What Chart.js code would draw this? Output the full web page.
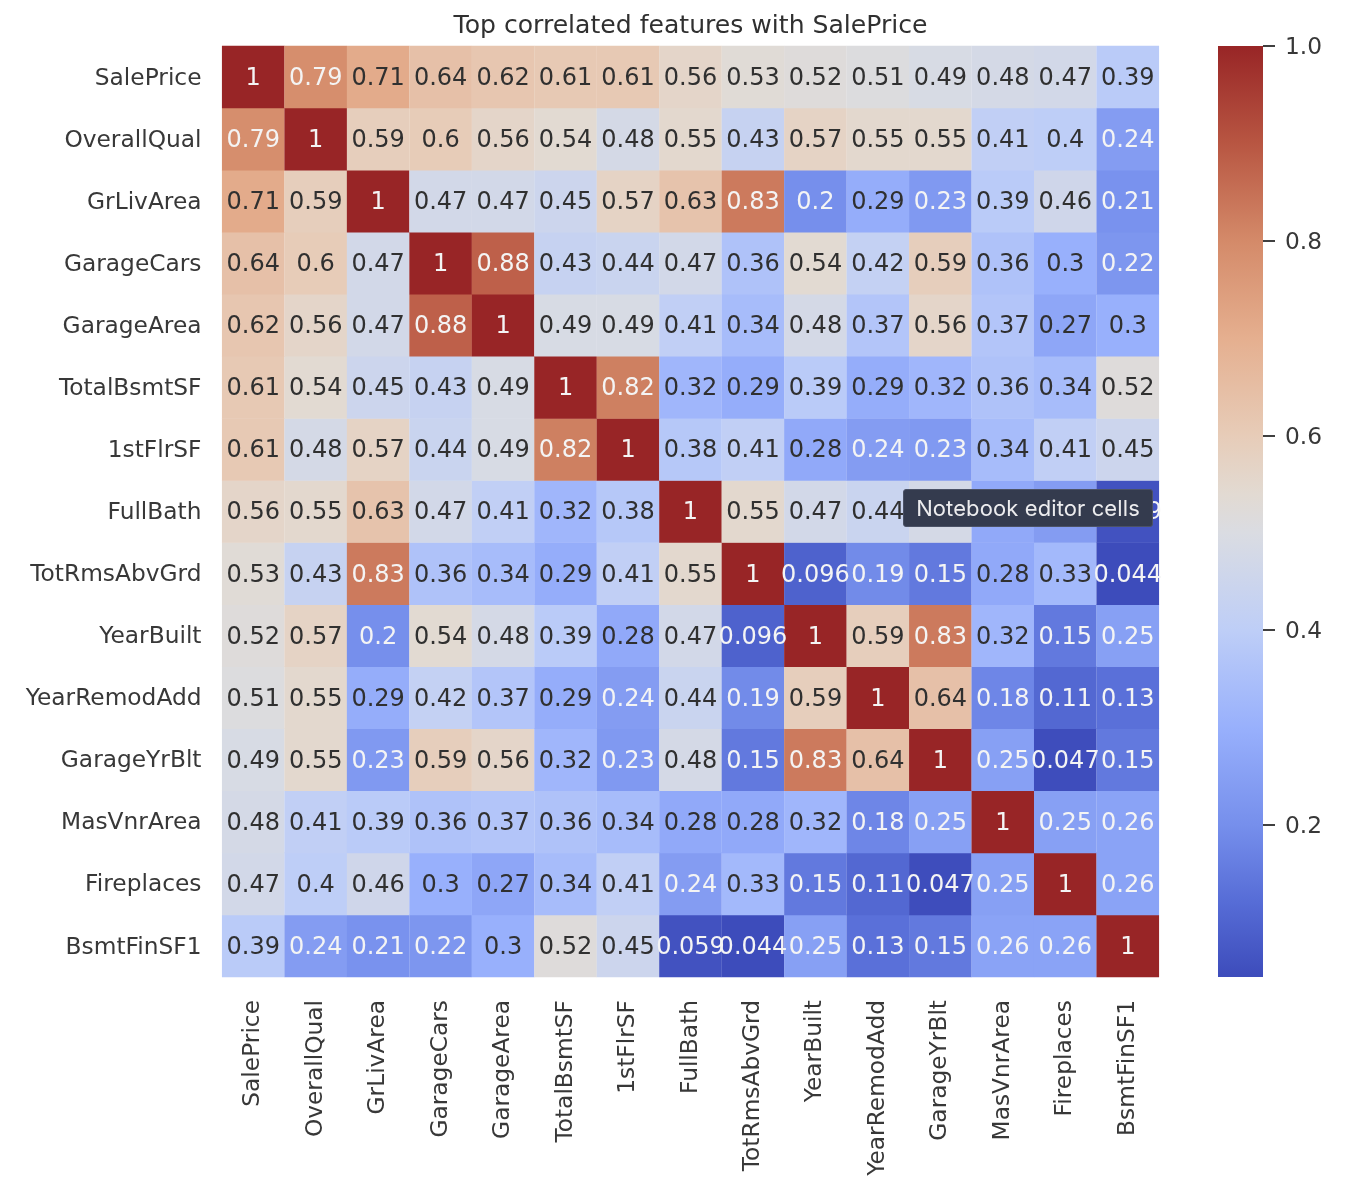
<!DOCTYPE html>
<html>
<head>
<meta charset="utf-8">
<script src="https://cdn.jsdelivr.net/npm/chart.js@4"></script>
<style>
html,body{margin:0;padding:0;background:#fff;width:1346px;height:1202px;overflow:hidden;position:relative}
canvas{position:absolute;top:0;display:block;filter:blur(0.45px)}
#main{left:0}
#bar{left:1218px}
#tip{position:absolute;left:903px;top:489px;width:248px;height:36px;line-height:36px;text-align:center;background:#343b4e;border:1px solid #4b5266;border-radius:3px;color:#ececee;font:400 22px/36px Inter,sans-serif;letter-spacing:0.1px;filter:blur(0.3px)}
</style>
</head>
<body>
<canvas id="main" width="1346" height="1202"></canvas>
<canvas id="bar" width="128" height="1202"></canvas>
<div id="tip">Notebook editor cells</div>
<script>
const features = ["SalePrice","OverallQual","GrLivArea","GarageCars","GarageArea","TotalBsmtSF","1stFlrSF","FullBath","TotRmsAbvGrd","YearBuilt","YearRemodAdd","GarageYrBlt","MasVnrArea","Fireplaces","BsmtFinSF1"];
const rowSalePrice    = [1,0.79,0.71,0.64,0.62,0.61,0.61,0.56,0.53,0.52,0.51,0.49,0.48,0.47,0.39];
const rowOverallQual  = [0.79,1,0.59,0.6,0.56,0.54,0.48,0.55,0.43,0.57,0.55,0.55,0.41,0.4,0.24];
const rowGrLivArea    = [0.71,0.59,1,0.47,0.47,0.45,0.57,0.63,0.83,0.2,0.29,0.23,0.39,0.46,0.21];
const rowGarageCars   = [0.64,0.6,0.47,1,0.88,0.43,0.44,0.47,0.36,0.54,0.42,0.59,0.36,0.3,0.22];
const rowGarageArea   = [0.62,0.56,0.47,0.88,1,0.49,0.49,0.41,0.34,0.48,0.37,0.56,0.37,0.27,0.3];
const rowTotalBsmtSF  = [0.61,0.54,0.45,0.43,0.49,1,0.82,0.32,0.29,0.39,0.29,0.32,0.36,0.34,0.52];
const row1stFlrSF     = [0.61,0.48,0.57,0.44,0.49,0.82,1,0.38,0.41,0.28,0.24,0.23,0.34,0.41,0.45];
const rowFullBath     = [0.56,0.55,0.63,0.47,0.41,0.32,0.38,1,0.55,0.47,0.44,0.48,0.28,0.24,0.059];
const rowTotRmsAbvGrd = [0.53,0.43,0.83,0.36,0.34,0.29,0.41,0.55,1,0.096,0.19,0.15,0.28,0.33,0.044];
const rowYearBuilt    = [0.52,0.57,0.2,0.54,0.48,0.39,0.28,0.47,0.096,1,0.59,0.83,0.32,0.15,0.25];
const rowYearRemodAdd = [0.51,0.55,0.29,0.42,0.37,0.29,0.24,0.44,0.19,0.59,1,0.64,0.18,0.11,0.13];
const rowGarageYrBlt  = [0.49,0.55,0.23,0.59,0.56,0.32,0.23,0.48,0.15,0.83,0.64,1,0.25,0.047,0.15];
const rowMasVnrArea   = [0.48,0.41,0.39,0.36,0.37,0.36,0.34,0.28,0.28,0.32,0.18,0.25,1,0.25,0.26];
const rowFireplaces   = [0.47,0.4,0.46,0.3,0.27,0.34,0.41,0.24,0.33,0.15,0.11,0.047,0.25,1,0.26];
const rowBsmtFinSF1   = [0.39,0.24,0.21,0.22,0.3,0.52,0.45,0.059,0.044,0.25,0.13,0.15,0.26,0.26,1];
const colorbarTicks = [0.2,0.4,0.6,0.8,1.0];
const vMin = 0.044, vMax = 1;
const titleText = "Top correlated features with SalePrice";

const matrix = [rowSalePrice,rowOverallQual,rowGrLivArea,rowGarageCars,rowGarageArea,rowTotalBsmtSF,row1stFlrSF,rowFullBath,rowTotRmsAbvGrd,rowYearBuilt,rowYearRemodAdd,rowGarageYrBlt,rowMasVnrArea,rowFireplaces,rowBsmtFinSF1];

// colour ramp as seen in the picture: [value, r, g, b]
const ramp = [[0.044,61,76,187],[0.12,86,108,214],[0.2,118,143,236],[0.3,152,176,252],[0.4,190,206,247],[0.5,218,220,226],[0.54,226,218,210],[0.6,231,204,184],[0.7,229,175,143],[0.8,212,138,105],[0.9,184,86,66],[1,152,37,38]];
function colorFor(v){
  for(let i=1;i<ramp.length;i++){
    if(v<=ramp[i][0]){
      const a=ramp[i-1],b=ramp[i],t=(v-a[0])/(b[0]-a[0]);
      return `rgb(${Math.round(a[1]+t*(b[1]-a[1]))},${Math.round(a[2]+t*(b[2]-a[2]))},${Math.round(a[3]+t*(b[3]-a[3]))})`;
    }
  }
  return `rgb(${ramp[ramp.length-1].slice(1).join(',')})`;
}
const textColor = v => (v<0.265||v>0.75) ? '#f4f4f4' : '#303030';
const FONT = '"DejaVu Sans"';

const cellLabels = {
  id:'cellLabels',
  afterDatasetsDraw(chart){
    const {ctx,scales:{x,y}} = chart;
    ctx.save();
    ctx.font = `24px ${FONT}`;
    ctx.textAlign='center';ctx.textBaseline='middle';
    matrix.forEach((row,r)=>row.forEach((v,c)=>{
      ctx.fillStyle=textColor(v);
      ctx.fillText(String(v),x.getPixelForValue(c),y.getPixelForValue(r)+1.7);
    }));
    ctx.restore();
  }
};

new Chart(document.getElementById('main'),{
  type:'scatter',
  data:{datasets:matrix.map((row,r)=>({
    label:features[r],
    data:row.map((v,c)=>({x:features[c],y:features[r],v})),
    pointStyle:'rect',
    borderWidth:0,
    backgroundColor:ctx=>colorFor(ctx.raw?ctx.raw.v:1),
    pointRadius:ctx=>{
      const a=ctx.chart.chartArea; if(!a) return 30;
      return Math.max((a.right-a.left),(a.bottom-a.top))/15/2*Math.SQRT2+0.1;
    },
    pointHoverRadius:ctx=>{
      const a=ctx.chart.chartArea; if(!a) return 30;
      return Math.max((a.right-a.left),(a.bottom-a.top))/15/2*Math.SQRT2+0.1;
    }
  }))},
  options:{
    responsive:false,animation:false,events:[],
    layout:{padding:{left:0,right:187,top:0,bottom:0}},
    plugins:{
      legend:{display:false},tooltip:{enabled:false},
      title:{display:true,text:titleText,fullSize:false,color:'#303030',font:{family:FONT,size:25.1,weight:'normal',lineHeight:1.2},padding:{top:11,bottom:4.9}}
    },
    scales:{
      x:{type:'category',labels:features,offset:true,position:'bottom',
        afterFit(s){s.height=225},
        grid:{display:false},border:{display:false},
        ticks:{autoSkip:false,minRotation:90,maxRotation:90,padding:15,color:'#383838',font:{family:FONT,size:23.3}}},
      y:{type:'category',labels:features,offset:true,position:'left',
        afterFit(s){s.width=222},
        grid:{display:false},border:{display:false},
        ticks:{autoSkip:false,padding:12.5,labelOffset:1.5,color:'#383838',font:{family:FONT,size:23.3}}}
    }
  },
  plugins:[cellLabels]
});

new Chart(document.getElementById('bar'),{
  type:'bar',
  data:{labels:['colorbar'],datasets:[{
    data:[[vMin,vMax]],barPercentage:1,categoryPercentage:1,borderWidth:0,
    backgroundColor:ctx=>{
      const a=ctx.chart.chartArea; if(!a) return '#888';
      const g=ctx.chart.ctx.createLinearGradient(0,a.bottom,0,a.top);
      ramp.forEach(s=>g.addColorStop((s[0]-vMin)/(vMax-vMin),`rgb(${s[1]},${s[2]},${s[3]})`));
      return g;
    }
  }]},
  options:{
    responsive:false,animation:false,events:[],
    layout:{padding:{left:0,right:0,top:46,bottom:225}},
    plugins:{legend:{display:false},tooltip:{enabled:false},title:{display:false}},
    scales:{
      x:{display:false,offset:true},
      y:{type:'linear',position:'right',min:vMin,max:vMax,
        afterBuildTicks(s){s.ticks=colorbarTicks.map(value=>({value}))},
        afterFit(s){s.width=83},
        grid:{drawOnChartArea:false,drawTicks:true,tickLength:12,tickColor:'#404040',lineWidth:2},
        border:{display:false},
        ticks:{padding:10,labelOffset:2,color:'#383838',font:{family:FONT,size:23.3},callback:v=>Number(v).toFixed(1)}}
    }
  }
});
</script>
</body>
</html>
